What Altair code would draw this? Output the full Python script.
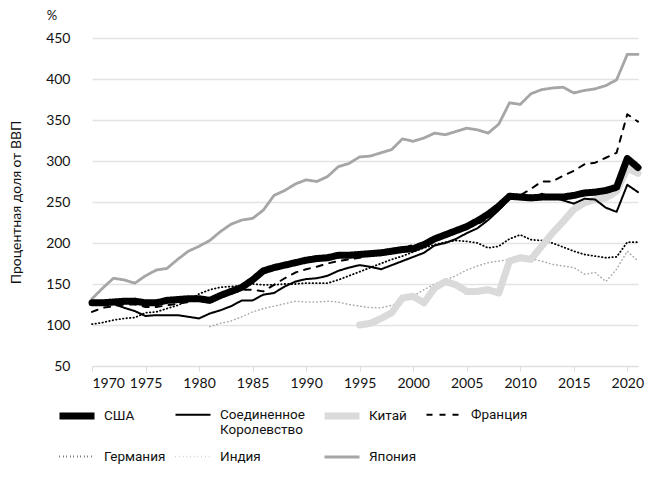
import altair as alt
import pandas as pd

years = list(range(1970, 2022))

usa = [127, 127, 128, 129, 129, 127, 127, 130, 131, 132, 132, 130, 136, 141, 146, 155, 166, 170, 173, 176, 179, 181, 182, 185, 185, 186, 187, 188, 190, 192, 193, 198, 205, 210, 215, 220, 227, 235, 245, 257, 256, 255, 256, 256, 256, 258, 261, 262, 264, 268, 303, 292]
uk = [127, 128, 126, 121, 117, 111, 112, 112, 112, 110, 108, 114, 118, 123, 130, 130, 137, 139, 147, 153, 156, 157, 160, 166, 170, 173, 171, 168, 173, 178, 183, 188, 197, 200, 205, 212, 218, 228, 240, 255, 254, 253, 260, 256, 252, 248, 254, 253, 243, 238, 271, 262]
france = [116, 121, 123, 125, 125, 122, 122, 124, 126, 128, 130, 132, 135, 138, 143, 143, 141, 149, 157, 164, 168, 171, 175, 178, 180, 182, 185, 188, 190, 193, 198, 200, 205, 210, 215, 220, 223, 230, 240, 254, 258, 266, 275, 275, 282, 288, 296, 298, 304, 310, 357, 348]
germany = [101, 103, 106, 108, 109, 115, 116, 120, 124, 130, 138, 143, 146, 147, 148, 150, 149, 149, 150, 150, 151, 151, 151, 155, 160, 165, 170, 175, 180, 184, 189, 194, 198, 201, 203, 202, 200, 194, 196, 205, 210, 204, 203, 200, 195, 190, 186, 184, 182, 183, 201, 201]
japan = [132, 145, 157, 155, 151, 160, 167, 169, 180, 190, 196, 203, 214, 223, 228, 230, 240, 258, 264, 272, 277, 275, 281, 293, 297, 305, 306, 310, 314, 327, 324, 328, 334, 332, 336, 340, 338, 334, 345, 371, 369, 382, 387, 389, 390, 383, 386, 388, 392, 399, 430, 430]
india_years = list(range(1981, 2022))
india = [98, 102, 105, 110, 116, 120, 123, 126, 129, 128, 128, 129, 128, 125, 123, 121, 121, 124, 129, 135, 143, 150, 155, 160, 167, 172, 176, 178, 180, 183, 181, 178, 174, 172, 170, 162, 164, 153, 168, 190, 178]
china_years = list(range(1995, 2022))
china = [100, 102, 108, 115, 133, 135, 127, 145, 153, 149, 141, 141, 143, 139, 178, 182, 180, 196, 212, 226, 241, 249, 253, 255, 263, 291, 285]

order = ["США", "Соединенное Королевство", "Китай", "Франция", "Германия", "Индия", "Япония"]
colors = ["#000000", "#000000", "#dadada", "#000000", "#000000", "#a8a8a8", "#a6a6a6"]
widths = [7, 2, 7, 2, 1.8, 1.5, 2.8]
dashes = [[1, 0], [1, 0], [1, 0], [6, 7], [0.5, 3], [0.5, 3.2], [1, 0]]

rows = []
def add(name, xs, vs):
    for x, v in zip(xs, vs):
        rows.append({"year": x, "value": v, "country": name})

add("Япония", years, japan)
add("Индия", india_years, india)
add("Германия", years, germany)
add("Китай", china_years, china)
add("Франция", years, france)
add("Соединенное Королевство", years, uk)
add("США", years, usa)
df = pd.DataFrame(rows)

FONT = "Lato"
LFONT = "Roboto"
TXT = "#111111"


def build(row_pad):
    leg = alt.Legend(
        title=None,
        orient="none",
        legendX=-36,
        legendY=357,
        direction="horizontal",
        columns=4,
        symbolType="stroke",
        symbolSize=1225,
        labelFontSize=13.5,
        labelFont=LFONT,
        labelColor=TXT,
        labelOffset=6,
        columnPadding=5,
        rowPadding=row_pad,
        labelLimit=200,
        labelExpr="datum.label == 'Соединенное Королевство' ? ['Соединенное', 'Королевство'] : [datum.label, '']",
    )

    lines = alt.Chart(df).mark_line(strokeCap="round", strokeJoin="round").encode(
        x=alt.X("year:Q", scale=alt.Scale(domain=[1970, 2021], nice=False, zero=False),
                axis=alt.Axis(values=list(range(1970, 2021, 5)), format="d", title=None, grid=False,
                              labelFontSize=14, labelFont=FONT, labelColor=TXT,
                              domainColor="#dddddd", tickColor="#dddddd", tickSize=5, labelPadding=5)),
        y=alt.Y("value:Q", scale=alt.Scale(domain=[50, 450], nice=False, zero=False),
                axis=alt.Axis(values=list(range(50, 451, 50)), title="Процентная доля от ВВП",
                              titleFontSize=14, titleFont=FONT, titleFontWeight="normal", titleColor=TXT,
                              labelFontSize=14, labelFont=FONT, labelColor=TXT, domain=False, ticks=False,
                              labelPadding=22, titlePadding=22, gridColor="#e3e3e3", gridWidth=1.3)),
        color=alt.Color("country:N", scale=alt.Scale(domain=order, range=colors), legend=leg),
        strokeWidth=alt.StrokeWidth("country:N", scale=alt.Scale(type="ordinal", domain=order, range=widths), legend=leg),
        strokeDash=alt.StrokeDash("country:N", scale=alt.Scale(type="ordinal", domain=order, range=dashes), legend=leg),
        detail="country:N",
    )

    pct = alt.Chart(pd.DataFrame({"t": ["%"]})).mark_text(
        font=FONT, fontSize=13, color=TXT, align="center", baseline="middle"
    ).encode(text="t:N", x=alt.value(-40), y=alt.value(-22))

    return alt.layer(lines, pct).properties(
        width=546,
        height=328,
        padding={"left": 84, "top": 30, "right": 10, "bottom": 104},
        autosize=alt.AutoSizeParams(type="none"),
    ).configure_view(stroke=None)


try:
    chart = build(-8)
    chart.save("out.html", embed_options={"renderer": "svg", "actions": False})
except Exception:
    chart = build(0)
    chart.save("out.html", embed_options={"renderer": "svg", "actions": False})
